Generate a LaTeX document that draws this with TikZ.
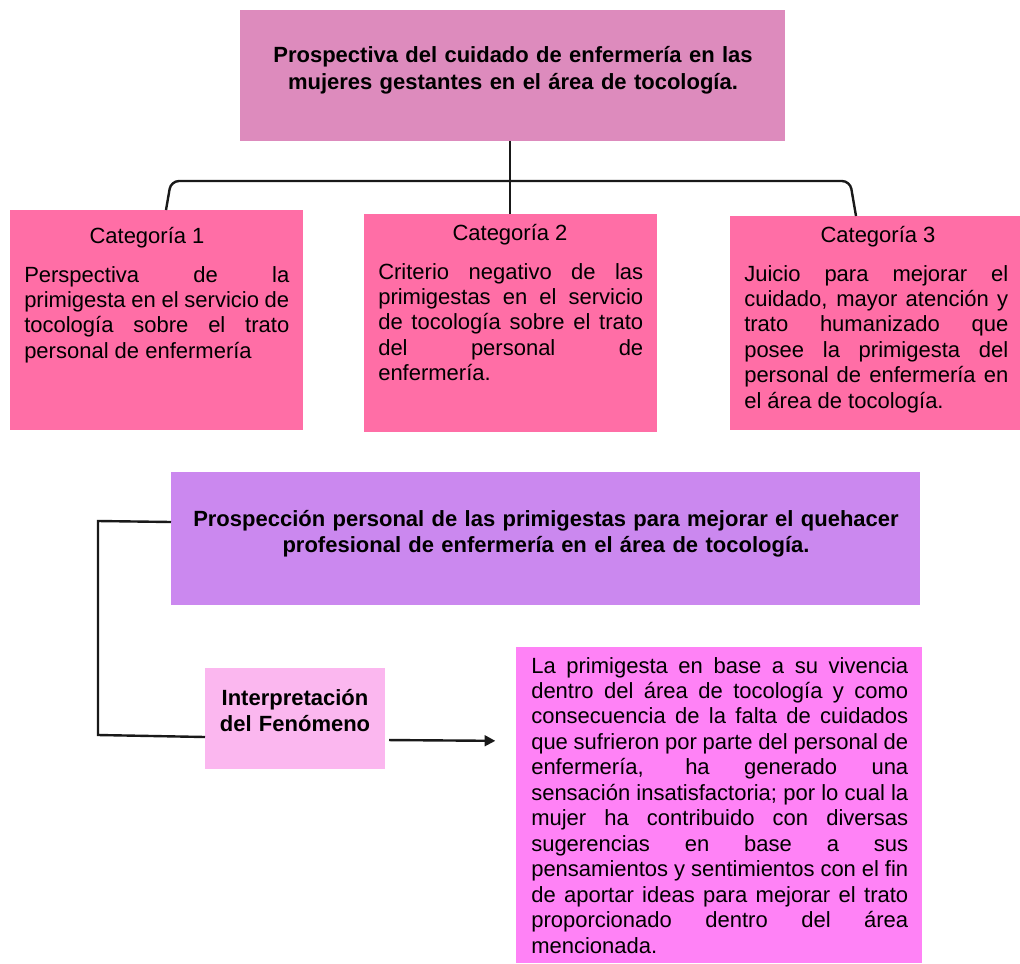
\documentclass[tikz,border=0pt]{standalone}
\usepackage{fontspec}
\setmainfont{Liberation Sans}
\usetikzlibrary{arrows.meta,fit}
\hyphenpenalty=10000
\exhyphenpenalty=10000
\definecolor{titlecol}{HTML}{DD8BBD}
\definecolor{catcol}{HTML}{FF6EA6}
\definecolor{purplecol}{HTML}{CB88EF}
\definecolor{interpcol}{HTML}{FBB7EF}
\definecolor{resultcol}{HTML}{FF82F6}
\tikzset{
  panel/.style={inner sep=0pt,outer sep=0pt,draw=none,fill=#1},
  bodytext/.style={font=\fontsize{16.5}{19.1}\selectfont,align=justify,inner sep=0pt,anchor=base west},
  headtext/.style={font=\fontsize{16.5}{19.1}\selectfont,inner sep=0pt,anchor=base},
  boldtext/.style={font=\bfseries\fontsize{16.5}{19.7}\selectfont,align=center,inner sep=0pt,anchor=base},
  link/.style={line width=1.8pt,black!90},
}
\begin{document}
\begin{tikzpicture}[x=0.75pt,y=-0.75pt]
\useasboundingbox (0,0) rectangle (1020,963);
\fill[white] (0,0) rectangle (1020,963);

% boxes
\node[panel=titlecol,fit={(240,10) (785,141)}] (title) {};
\node[panel=catcol,fit={(10,210) (303,430)}] (cat1) {};
\node[panel=catcol,fit={(364,214) (657,432)}] (cat2) {};
\node[panel=catcol,fit={(730,216) (1020,430)}] (cat3) {};
\node[panel=purplecol,fit={(171,472) (920,605)}] (prosp) {};
\node[panel=interpcol,fit={(205,668) (385,769)}] (interp) {};
\node[panel=resultcol,fit={(516,647) (922,963)}] (result) {};

% texts
\node[boldtext,text width=390pt] (titletxt) at (513,63)
  {Prospectiva del cuidado de enfermería en las\\mujeres gestantes en el área de tocología.};

\node[headtext] (cat1h) at (147,243) {Categoría 1};
\node[headtext] (cat2h) at (510,240) {Categoría 2};
\node[headtext] (cat3h) at (878,242) {Categoría 3};

\node[bodytext,text width=198.75pt] (cat1b) at (24,282)
  {Perspectiva de la\linebreak primigesta en el servicio de\linebreak tocología sobre el trato\linebreak personal de enfermería};
\node[bodytext,text width=198.75pt] (cat2b) at (378,279)
  {Criterio negativo de las\linebreak primigestas en el servicio\linebreak de tocología sobre el trato\linebreak del personal de\linebreak enfermería.};
\node[bodytext,text width=198pt] (cat3b) at (744,281)
  {Juicio para mejorar el\linebreak cuidado, mayor atención y\linebreak trato humanizado que\linebreak posee la primigesta del\linebreak personal de enfermería en\linebreak el área de tocología.};

\node[boldtext,text width=540pt] (prosptxt) at (546,526)
  {Prospección personal de las primigestas para mejorar el quehacer\\profesional de enfermería en el área de tocología.};

\node[boldtext,text width=130pt] (interptxt) at (295,705)
  {Interpretación\\del Fenómeno};

\node[bodytext,text width=282.75pt] (resulttxt) at (531,673)
  {La primigesta en base a su vivencia\linebreak dentro del área de tocología y como\linebreak consecuencia de la falta de cuidados\linebreak que sufrieron por parte del personal de\linebreak enfermería, ha generado una\linebreak sensación insatisfactoria; por lo cual la\linebreak mujer ha contribuido con diversas\linebreak sugerencias en base a sus\linebreak pensamientos y sentimientos con el fin\linebreak de aportar ideas para mejorar el trato\linebreak proporcionado dentro del área\linebreak mencionada.};

% connectors
\coordinate (tstem) at (510,141);
\coordinate (c2top) at (510,214);
\coordinate (c1top) at (166,210);
\coordinate (c3top) at (856,216);
\draw[link] (tstem) -- (c2top);
\draw[link,rounded corners=6pt] (c1top) -- (171,181) -- (850,181) -- (c3top);

\coordinate (pleft) at (171,522);
\coordinate (ileft) at (205,737);
\draw[link] (pleft) -- (98,521) -- (98,735) -- (ileft);

\draw[link,-{Triangle[length=8pt,width=8pt]},shorten <=3pt,shorten >=15.5pt]
  (interp.east |- 0,740) -- (result.west |- 0,741);
\end{tikzpicture}
\end{document}
